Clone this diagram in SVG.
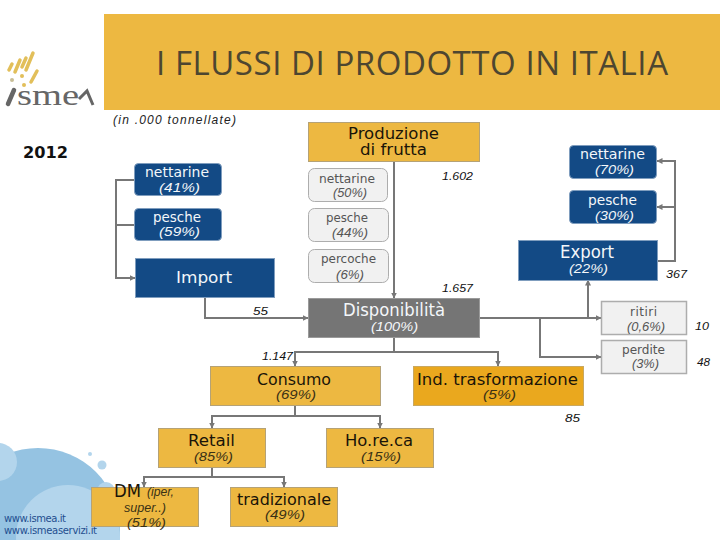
<svg xmlns="http://www.w3.org/2000/svg" width="720" height="540" viewBox="0 0 720 540">
<style>
text{font-family:"DejaVu Sans","Liberation Sans",sans-serif}
.gold{fill:#EDB841;stroke:#B5A276;stroke-width:1}
.blue{fill:#134A85;stroke:#7F9DBE;stroke-width:1}
.gray{fill:#757575;stroke:#9A9A9A;stroke-width:1}
.soft{fill:#F1F1F1;stroke:#ADADAD;stroke-width:1}
.softb{fill:#F1F1F1;stroke:#ADADAD;stroke-width:1.5}
.ind{fill:#EAA81E;stroke:#C9A860;stroke-width:1}
.w{fill:#F4F7FA;font-size:14px}
.wi{fill:#F4F7FA;font-size:13px;font-style:italic;font-family:"Liberation Sans",sans-serif}
.d{fill:#1a1408;font-size:16px}
.di{fill:#3a3115;font-size:13px;font-style:italic;font-family:"Liberation Sans",sans-serif}
.g{fill:#555;font-size:12px}
.gi{fill:#555;font-size:12px;font-style:italic;font-family:"Liberation Sans",sans-serif}
.n{fill:#111;font-size:11.500px;font-style:italic;font-family:"Liberation Sans",sans-serif}
.link{fill:#1F4E8F;font-size:10px}
#connectors path{fill:none;stroke:#777;stroke-width:2}
</style>
<defs>
<marker id="a" viewBox="0 0 6 6" refX="5.5" refY="3" markerWidth="6" markerHeight="6" markerUnits="userSpaceOnUse" orient="auto"><path d="M0 0L6 3L0 6z" fill="#777"/></marker>
</defs>
<g id="bubbles">
<circle cx="38" cy="530" r="82" fill="#95C3E2"/>
<circle cx="-2" cy="462" r="19" fill="#B3D5EC"/>
<circle cx="68" cy="537" r="52" fill="#B3D5EC"/>
<circle cx="90" cy="454" r="2" fill="#B3D5EC"/>
<circle cx="102" cy="465" r="4.5" fill="#B3D5EC"/>
<circle cx="106" cy="491" r="9" fill="#B3D5EC"/>
</g>
<g id="links">
<text class="link" x="4" y="522" textLength="62" lengthAdjust="spacing">www.ismea.it</text>
<text class="link" x="4" y="534" textLength="93" lengthAdjust="spacing">www.ismeaservizi.it</text>
</g>
<g id="logo">
<g stroke="#E2BF5A" stroke-width="3.500" stroke-linecap="round" fill="none">
<path d="M9 70L12 64"/><path d="M15 72L20 60"/><path d="M22 67L26 58"/><path d="M26 70L33 53"/><path d="M31 82L37 71"/>
</g>
<circle cx="12" cy="80" r="2" fill="#C8BE98"/><circle cx="22" cy="76" r="2" fill="#E2BF5A"/><circle cx="24" cy="85" r="2" fill="#E2BF5A"/>
<path d="M8 104L14 90" stroke="#666" stroke-width="4.500" stroke-linecap="round"/>
<text x="17" y="105" font-size="30" textLength="62" lengthAdjust="spacingAndGlyphs" style="font-family:'Liberation Serif',serif" fill="#666">sme</text>
<path d="M79 99L87 91L93 105" stroke="#666" stroke-width="3" fill="none"/>
</g>
<g id="banner">
<rect x="104" y="14" width="616" height="96" fill="#EDB841"/>
<text x="156" y="75" font-size="33" textLength="512" lengthAdjust="spacing" fill="#4D4630" style="font-family:'Open Sans',sans-serif">I FLUSSI DI PRODOTTO IN ITALIA</text>
</g>
<text x="113" y="124" font-size="12" font-style="italic" fill="#222" textLength="123" lengthAdjust="spacing" style="font-family:'Liberation Sans',sans-serif">(in .000 tonnellate)</text>
<text x="23" y="158" font-size="16" font-weight="bold" fill="#111" textLength="45" lengthAdjust="spacingAndGlyphs">2012</text>
<g id="connectors">
<path d="M394 162V298" marker-end="url(#a)"/>
<path d="M134 180H116V278H135" marker-end="url(#a)"/>
<path d="M134 225H116"/>
<path d="M205 298V318H308" marker-end="url(#a)"/>
<path d="M394 338V352H295V366" marker-end="url(#a)"/>
<path d="M394 352H498V366" marker-end="url(#a)"/>
<path d="M295 406V416H212V428" marker-end="url(#a)"/>
<path d="M295 416H380V428" marker-end="url(#a)"/>
<path d="M212 468V477H144V487" marker-end="url(#a)"/>
<path d="M212 477H284V487" marker-end="url(#a)"/>
<path d="M657 261H675V161H657" marker-end="url(#a)"/>
<path d="M675 207H657" marker-end="url(#a)"/>
<path d="M480 318H601" marker-end="url(#a)"/>
<path d="M588 318V280" marker-end="url(#a)"/>
<path d="M540 318V357H601" marker-end="url(#a)"/>
</g>
<g id="produzione"><rect class="gold" x="308.500" y="122.500" width="171" height="39"/>
<text class="d" x="348" y="139" textLength="91" lengthAdjust="spacingAndGlyphs">Produzione</text><text class="d" x="360" y="155" textLength="67" lengthAdjust="spacingAndGlyphs">di frutta</text></g>
<g id="nettarine50"><rect class="soft" x="308.500" y="168.500" width="79" height="33" rx="6"/>
<text class="g" x="319" y="183" textLength="56" lengthAdjust="spacingAndGlyphs">nettarine</text><text class="gi" x="333" y="197" textLength="34" lengthAdjust="spacingAndGlyphs">(50%)</text></g>
<g id="pesche44"><rect class="soft" x="308.500" y="208.500" width="80" height="33" rx="6"/>
<text class="g" x="326" y="222" textLength="42" lengthAdjust="spacingAndGlyphs">pesche</text><text class="gi" x="332" y="237" textLength="36" lengthAdjust="spacingAndGlyphs">(44%)</text></g>
<g id="percoche"><rect class="soft" x="308.500" y="249.500" width="80" height="33" rx="6"/>
<text class="g" x="321" y="263" textLength="55" lengthAdjust="spacingAndGlyphs">percoche</text><text class="gi" x="336" y="279" textLength="28" lengthAdjust="spacingAndGlyphs">(6%)</text></g>
<g id="nettarine41"><rect class="blue" x="134.500" y="163.500" width="87" height="32" rx="4"/>
<text class="w" x="145" y="177" textLength="64" lengthAdjust="spacingAndGlyphs">nettarine</text><text class="wi" x="159" y="192" textLength="41" lengthAdjust="spacingAndGlyphs">(41%)</text></g>
<g id="pesche59"><rect class="blue" x="134.500" y="208.500" width="87" height="32" rx="4"/>
<text class="w" x="153" y="222" textLength="48" lengthAdjust="spacingAndGlyphs">pesche</text><text class="wi" x="159" y="236" textLength="41" lengthAdjust="spacingAndGlyphs">(59%)</text></g>
<g id="import"><rect class="blue" x="135.500" y="258.500" width="139" height="39"/>
<text class="w" style="font-size:16px" x="176" y="283" textLength="56" lengthAdjust="spacingAndGlyphs">Import</text></g>
<g id="disponibilita"><rect class="gray" x="308.500" y="298.500" width="171" height="39"/>
<text class="w" style="font-size:17px" x="343" y="316" textLength="102" lengthAdjust="spacingAndGlyphs">Disponibilità</text><text class="wi" x="371" y="331" textLength="47" lengthAdjust="spacingAndGlyphs">(100%)</text></g>
<g id="nettarine70"><rect class="blue" x="569.500" y="145.500" width="87" height="33" rx="4"/>
<text class="w" x="580" y="159" textLength="65" lengthAdjust="spacingAndGlyphs">nettarine</text><text class="wi" x="595" y="174" textLength="39" lengthAdjust="spacingAndGlyphs">(70%)</text></g>
<g id="pesche30"><rect class="blue" x="569.500" y="190.500" width="87" height="33" rx="4"/>
<text class="w" x="588" y="205" textLength="49" lengthAdjust="spacingAndGlyphs">pesche</text><text class="wi" x="595" y="220" textLength="39" lengthAdjust="spacingAndGlyphs">(30%)</text></g>
<g id="export"><rect class="blue" x="518.500" y="240.500" width="139" height="40"/>
<text class="w" style="font-size:17px" x="560" y="258" textLength="54" lengthAdjust="spacingAndGlyphs">Export</text><text class="wi" x="569" y="273" textLength="39" lengthAdjust="spacingAndGlyphs">(22%)</text></g>
<g id="ritiri"><rect class="softb" x="601.500" y="301.500" width="85" height="33"/>
<text class="g" x="630" y="316" textLength="27" lengthAdjust="spacing">ritiri</text><text class="gi" x="627" y="331" textLength="38" lengthAdjust="spacingAndGlyphs">(0,6%)</text></g>
<g id="perdite"><rect class="softb" x="601.500" y="340.500" width="85" height="33"/>
<text class="g" x="622" y="354" textLength="43" lengthAdjust="spacingAndGlyphs">perdite</text><text class="gi" x="632" y="368" textLength="27" lengthAdjust="spacingAndGlyphs">(3%)</text></g>
<g id="consumo"><rect class="gold" x="210.500" y="366.500" width="170" height="39"/>
<text class="d" x="257" y="385" textLength="74" lengthAdjust="spacingAndGlyphs">Consumo</text><text class="di" x="276" y="399" textLength="40" lengthAdjust="spacingAndGlyphs">(69%)</text></g>
<g id="ind"><rect class="ind" x="413.500" y="366.500" width="170" height="39"/>
<text class="d" x="417" y="385" textLength="161" lengthAdjust="spacingAndGlyphs">Ind. trasformazione</text><text class="di" x="483" y="399" textLength="33" lengthAdjust="spacingAndGlyphs">(5%)</text></g>
<g id="retail"><rect class="gold" x="158.500" y="428.500" width="107" height="39"/>
<text class="d" x="188" y="446" textLength="47" lengthAdjust="spacingAndGlyphs">Retail</text><text class="di" x="194" y="461" textLength="39" lengthAdjust="spacingAndGlyphs">(85%)</text></g>
<g id="horeca"><rect class="gold" x="326.500" y="428.500" width="107" height="39"/>
<text class="d" x="345" y="446" textLength="68" lengthAdjust="spacingAndGlyphs">Ho.re.ca</text><text class="di" x="361" y="461" textLength="40" lengthAdjust="spacingAndGlyphs">(15%)</text></g>
<g id="dm"><rect class="gold" x="91.500" y="487.500" width="107" height="39"/>
<text class="d" style="font-size:17px" x="114" y="497" textLength="27" lengthAdjust="spacingAndGlyphs">DM</text><text class="di" style="font-size:12px" x="147" y="496" textLength="27" lengthAdjust="spacingAndGlyphs">(iper,</text><text class="di" style="font-size:12px" x="124" y="512" textLength="42" lengthAdjust="spacingAndGlyphs">super..)</text><text class="di" x="127" y="527" textLength="39" lengthAdjust="spacingAndGlyphs">(51%)</text></g>
<g id="tradizionale"><rect class="gold" x="230.500" y="487.500" width="107" height="39"/>
<text class="d" x="237" y="505" textLength="94" lengthAdjust="spacingAndGlyphs">tradizionale</text><text class="di" x="265" y="519" textLength="40" lengthAdjust="spacingAndGlyphs">(49%)</text></g>
<g id="values">
<text class="n" x="442" y="180" textLength="31" lengthAdjust="spacingAndGlyphs">1.602</text>
<text class="n" x="442" y="292" textLength="31" lengthAdjust="spacingAndGlyphs">1.657</text>
<text class="n" x="253" y="315" textLength="15" lengthAdjust="spacingAndGlyphs">55</text>
<text class="n" x="262" y="360" textLength="31" lengthAdjust="spacingAndGlyphs">1.147</text>
<text class="n" x="666" y="278" textLength="21" lengthAdjust="spacingAndGlyphs">367</text>
<text class="n" x="695" y="330" textLength="14" lengthAdjust="spacingAndGlyphs">10</text>
<text class="n" x="697" y="366" textLength="13" lengthAdjust="spacingAndGlyphs">48</text>
<text class="n" x="565" y="422" textLength="15" lengthAdjust="spacingAndGlyphs">85</text>
</g>
</svg>
